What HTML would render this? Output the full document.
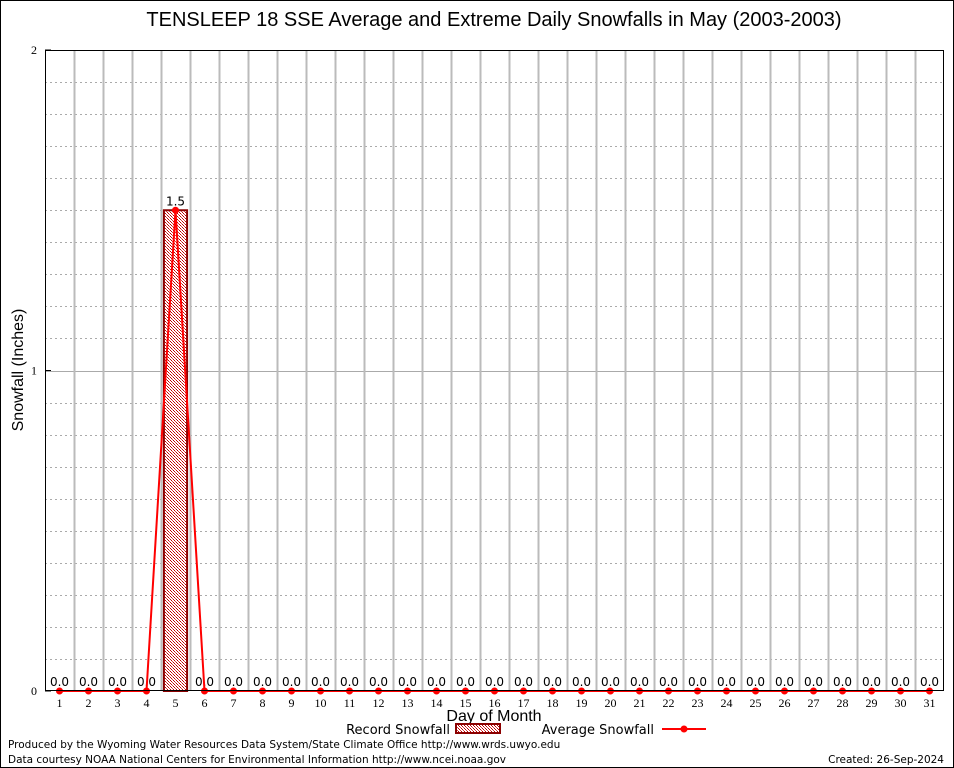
<!DOCTYPE html>
<html><head><meta charset="utf-8"><style>body{margin:0;background:#fff}svg{display:block}</style></head>
<body>
<svg id="chart" width="954" height="768" xmlns="http://www.w3.org/2000/svg">
<defs>
<pattern id="hatch" width="3" height="3" patternUnits="userSpaceOnUse">
<rect width="3" height="3" fill="#fff"/><rect width="1" height="1" fill="#c00000"/><rect x="2" y="2" width="1" height="1" fill="#c00000"/><rect x="1" y="1" width="1" height="1" fill="#e04040"/>
</pattern>
</defs>
<rect x="0.5" y="0.5" width="953" height="767" fill="#fff" stroke="#000"/>
<text x="494" y="26" font-family="Liberation Sans, sans-serif" font-size="20" text-anchor="middle">TENSLEEP 18 SSE Average and Extreme Daily Snowfalls in May (2003-2003)</text>
<g id="grid"></g>
<g id="marks"></g>
<rect x="45.5" y="50.5" width="898" height="640" fill="none" stroke="#000"/>
<text transform="translate(23,370) rotate(-90)" font-family="Liberation Sans, sans-serif" font-size="16" text-anchor="middle">Snowfall (Inches)</text>
<text x="494" y="721" font-family="Liberation Sans, sans-serif" font-size="16" text-anchor="middle">Day of Month</text>
<g>
<text x="450" y="734" font-family="DejaVu Sans, sans-serif" font-size="13" text-anchor="end">Record Snowfall</text>
<rect x="456" y="724" width="44" height="9" fill="url(#hatch)" stroke="#8b0000" stroke-width="2"/>
</g>
<g>
<text x="654" y="734" font-family="DejaVu Sans, sans-serif" font-size="13" text-anchor="end">Average Snowfall</text>
<line x1="662" y1="729" x2="706" y2="729" stroke="red" stroke-width="2"/>
<circle cx="684" cy="729" r="3.5" fill="red"/>
</g>
<text x="8" y="748" font-family="DejaVu Sans, sans-serif" font-size="10.5">Produced by the Wyoming Water Resources Data System/State Climate Office http://www.wrds.uwyo.edu</text>
<text x="8" y="763" font-family="DejaVu Sans, sans-serif" font-size="10.5">Data courtesy NOAA National Centers for Environmental Information http://www.ncei.noaa.gov</text>
<text x="944" y="763" font-family="DejaVu Sans, sans-serif" font-size="10.5" text-anchor="end">Created:  26-Sep-2024</text>
</svg>
<script>
const days = Array.from({length:31},(_,i)=>i+1);
const recordSnow = [0,0,0,0,1.5,0,0,0,0,0,0,0,0,0,0,0,0,0,0,0,0,0,0,0,0,0,0,0,0,0,0];
const avgSnow = [0,0,0,0,1.5,0,0,0,0,0,0,0,0,0,0,0,0,0,0,0,0,0,0,0,0,0,0,0,0,0,0];
const yTicks = [0,1,2];
const NS='http://www.w3.org/2000/svg';
const X0=45,X1=944,Y0=691,Y1=50,YMAX=2;
const step=(X1-X0)/31;
const xs=d=>X0+(d-0.5)*step;
const ys=v=>Y0-(v/YMAX)*(Y0-Y1);
function mk(tag,attrs,parent){const e=document.createElementNS(NS,tag);for(const k in attrs)e.setAttribute(k,attrs[k]);parent.appendChild(e);return e;}
const grid=document.getElementById('grid'),marks=document.getElementById('marks');
for(let v=0.1;v<YMAX-0.001;v+=0.1){const y=Math.round(ys(v))+0.5;
 if(Math.abs(v-1)<0.01){const l=mk('line',{x1:X0,x2:X1,y1:y,y2:y,stroke:'#aaa','stroke-width':1},grid);}
 else{const l=mk('line',{x1:X0,x2:X1,y1:y,y2:y,stroke:'#aaa','stroke-dasharray':'2,3'},grid);}}
for(let i=1;i<31;i++){const x=Math.round(X0+i*step)+0.5;const l=mk('line',{x1:x,x2:x,y1:Y1,y2:Y0,stroke:'#bbb','stroke-width':2},grid);}
yTicks.forEach(v=>{const t=mk('text',{x:X0-8,y:ys(v)+4,'text-anchor':'end','font-family':'Liberation Serif, serif','font-size':12},grid);t.textContent=v;
 const k=mk('line',{x1:X0,x2:X0+6,y1:ys(v),y2:ys(v),stroke:'#000'},grid);});
days.forEach((d,i)=>{const x=xs(d);
 const t=mk('text',{x:x,y:707,'text-anchor':'middle','font-family':'Liberation Serif, serif','font-size':12},grid);t.textContent=d;
 const v=recordSnow[i];
 if(v>0){const w=step*0.8;const r=mk('rect',{x:x-w/2,y:ys(v),width:w,height:Y0-ys(v),fill:'url(#hatch)',stroke:'#8b0000','stroke-width':2},marks);}
 const lb=mk('text',{x:x,y:ys(v)-5,'text-anchor':'middle','font-family':'DejaVu Sans, sans-serif','font-size':12},marks);lb.textContent=v.toFixed(1);});
const pts=days.map((d,i)=>xs(d)+','+ys(avgSnow[i])).join(' ');
const pl=mk('polyline',{points:pts,fill:'none',stroke:'red','stroke-width':2},marks);


days.forEach((d,i)=>{const c=mk('circle',{cx:xs(d),cy:ys(avgSnow[i]),r:3.5,fill:'red'},marks);});
</script>
</body></html>
